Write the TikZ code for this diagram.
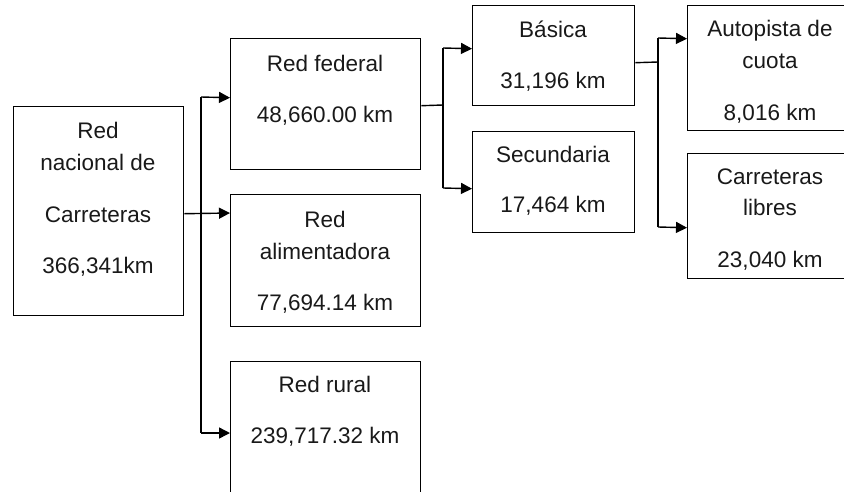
\documentclass[tikz,border=0pt]{standalone}
\usepackage{fontspec}
\setmainfont{Liberation Sans}
\usetikzlibrary{arrows.meta}
\begin{document}
\begin{tikzpicture}[x=1pt,y=-1pt,
  box/.style={draw=black,line width=1.4pt,rectangle,anchor=north west,inner sep=0pt},
  txt/.style={anchor=base,inner sep=0pt,font=\fontsize{22.5}{27}\selectfont,text=black!90},
  conn/.style={draw=black,line width=1.4pt},
  arr/.style={conn,-{Triangle[length=11pt,width=11pt]}}]
\useasboundingbox (0,0) rectangle (844,491);
\clip (0,0) rectangle (844,491);
% boxes
\node[box,minimum width=170pt,minimum height=209pt] (main) at (13,106) {};
\node[box,minimum width=190pt,minimum height=131pt] (fed) at (230,38) {};
\node[box,minimum width=190pt,minimum height=132pt] (ali) at (230,194) {};
\node[box,minimum width=190pt,minimum height=150pt] (rur) at (230,361) {};
\node[box,minimum width=162pt,minimum height=100pt] (bas) at (472,5) {};
\node[box,minimum width=162pt,minimum height=101pt] (sec) at (472,131) {};
\node[box,minimum width=170pt,minimum height=125pt] (aut) at (687,5) {};
\node[box,minimum width=170pt,minimum height=125pt] (lib) at (687,153) {};
% texts
\node[txt] (t1) at (98,138) {Red};
\node[txt] (t2) at (98,170) {nacional de};
\node[txt] (t3) at (98,222) {Carreteras};
\node[txt] (t4) at (98,273) {366,341km};
\node[txt] (t5) at (325,71) {Red federal};
\node[txt] (t6) at (325,122) {48,660.00 km};
\node[txt] (t7) at (325,227) {Red};
\node[txt] (t8) at (325,259) {alimentadora};
\node[txt] (t9) at (325,310) {77,694.14 km};
\node[txt] (t10) at (325,392) {Red rural};
\node[txt] (t11) at (325,443) {239,717.32 km};
\node[txt] (t12) at (553,37) {Básica};
\node[txt] (t13) at (553,88) {31,196 km};
\node[txt] (t14) at (553,162) {Secundaria};
\node[txt] (t15) at (553,212) {17,464 km};
\node[txt] (t16) at (770,36) {Autopista de};
\node[txt] (t17) at (770,68) {cuota};
\node[txt] (t18) at (770,120) {8,016 km};
\node[txt] (t19) at (770,184) {Carreteras};
\node[txt] (t20) at (770,215) {libres};
\node[txt] (t21) at (770,267) {23,040 km};
% connectors level 1
\coordinate (j1) at (201,213);
\draw[arr] ([yshift=-2.5pt]main.east) -- (ali.west |- j1);
\draw[conn] (j1) -- (j1 |- 0,97);
\draw[arr] (j1 |- 0,97) -- ([yshift=6.5pt]fed.west);
\draw[conn] (j1) -- (j1 |- 0,433);
\draw[arr] (j1 |- 0,433) -- (rur.west |- 0,433);
% level 2
\coordinate (j2) at (443,105);
\draw[conn] ([yshift=-1.5pt]fed.east) -- (j2);
\draw[conn] (j2 |- 0,48) -- (j2 |- 0,188);
\draw[arr] (j2 |- 0,48) -- ([yshift=7pt]bas.west);
\draw[arr] (j2 |- 0,188) -- ([yshift=-6.5pt]sec.west);
% level 3
\coordinate (j3) at (658,62);
\draw[conn] ([yshift=-7pt]bas.east) -- (j3);
\draw[conn] (j3 |- 0,38) -- (j3 |- 0,227);
\draw[arr] (j3 |- 0,38) -- ([yshift=29.5pt]aut.west);
\draw[arr] (j3 |- 0,227) -- ([yshift=-11.5pt]lib.west);
\end{tikzpicture}
\end{document}
